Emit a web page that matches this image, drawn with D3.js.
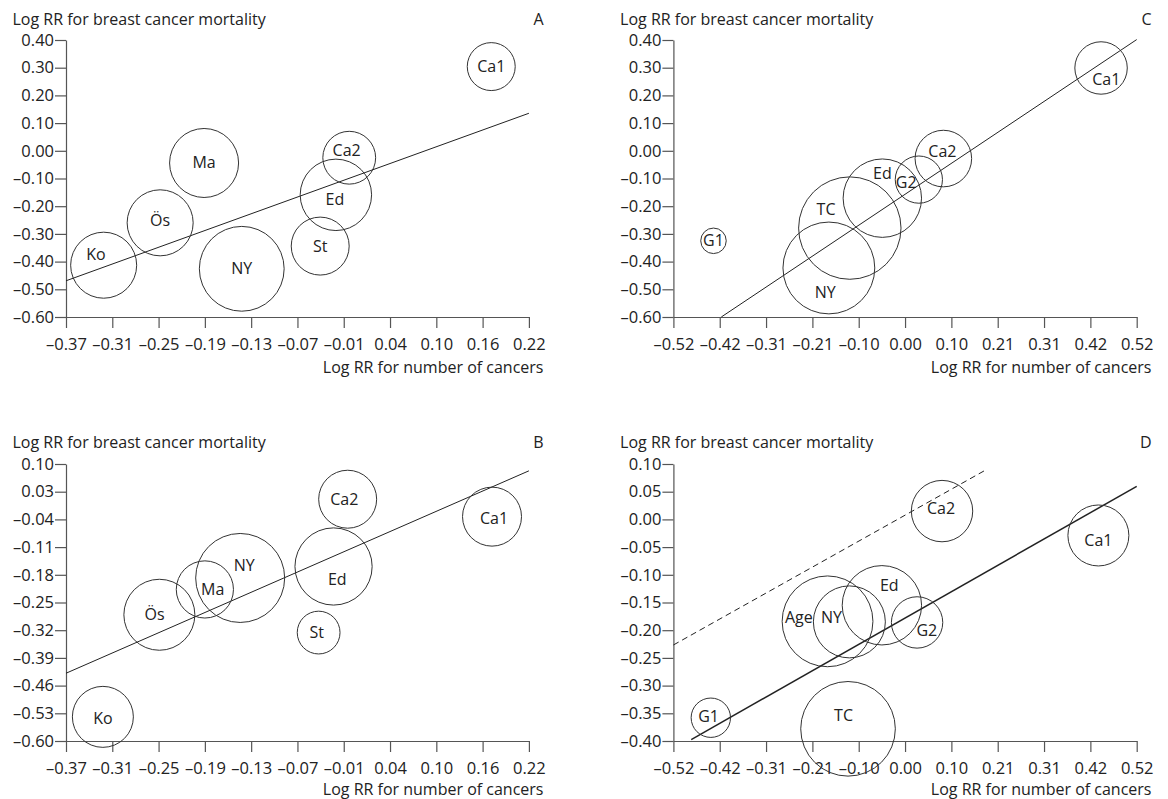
<!DOCTYPE html>
<html>
<head>
<meta charset="utf-8">
<script src="https://cdn.jsdelivr.net/npm/d3@7"></script>
<style>
  html, body { margin: 0; padding: 0; background: #fff; }
  svg { display: block; }
  text { font-family: "Open Sans", "Noto Sans", sans-serif; fill: #222; }
</style>
</head>
<body>
<svg id="chart" width="1168" height="799"></svg>
<script>
// ---------------- DATA ----------------
const yTitle = "Log RR for breast cancer mortality";
const xTitle = "Log RR for number of cancers";

// Panel A
const aStudies = ["Ca1", "Ca2", "Ed", "St", "NY", "Ma", "Ös", "Ko"];
const aX = [0.172, -0.009, -0.026, -0.046, -0.146, -0.194, -0.250, -0.322];
const aY = [0.304, -0.025, -0.159, -0.344, -0.426, -0.044, -0.260, -0.413];
const aWeight = [23.0, 27.9, 51.0, 33.6, 71.9, 47.6, 43.6, 43.6];
const aXDomain = [-0.37, 0.22];
const aYDomain = [-0.60, 0.40];
const aXTicks = ["–0.37", "–0.31", "–0.25", "–0.19", "–0.13", "–0.07", "–0.01", "0.04", "0.10", "0.16", "0.22"];
const aYTicks = ["–0.60", "–0.50", "–0.40", "–0.30", "–0.20", "–0.10", "0.00", "0.10", "0.20", "0.30", "0.40"];
const aLineIntercept = [-0.090];
const aLineSlope = [1.025];
const aLineFrom = [-0.37];
const aLineTo = [0.22];

// Panel B
const bStudies = ["Ca2", "Ca1", "Ed", "St", "NY", "Ma", "Ös", "Ko"];
const bX = [-0.011, 0.173, -0.029, -0.048, -0.148, -0.193, -0.251, -0.323];
const bY = [0.011, -0.033, -0.159, -0.326, -0.188, -0.217, -0.281, -0.539];
const bWeight = [33.6, 34.8, 59.6, 18.3, 79.2, 32.7, 50.4, 37.2];
const bXDomain = [-0.37, 0.22];
const bYDomain = [-0.60, 0.10];
const bXTicks = ["–0.37", "–0.31", "–0.25", "–0.19", "–0.13", "–0.07", "–0.01", "0.04", "0.10", "0.16", "0.22"];
const bYTicks = ["–0.60", "–0.53", "–0.46", "–0.39", "–0.32", "–0.25", "–0.18", "–0.11", "–0.04", "0.03", "0.10"];
const bLineIntercept = [-0.108];
const bLineSlope = [0.867];
const bLineFrom = [-0.37];
const bLineTo = [0.22];

// Panel C
const cStudies = ["Ca1", "Ca2", "G2", "Ed", "TC", "NY", "G1"];
const cX = [0.440, 0.086, 0.031, -0.051, -0.124, -0.171, -0.430];
const cY = [0.299, -0.028, -0.104, -0.171, -0.279, -0.423, -0.325];
const cWeight = [27.5, 32.0, 22.3, 61.5, 104.9, 84.3, 6.5];
const cXDomain = [-0.52, 0.52];
const cYDomain = [-0.60, 0.40];
const cXTicks = ["–0.52", "–0.42", "–0.31", "–0.21", "–0.10", "0.00", "0.10", "0.21", "0.31", "0.42", "0.52"];
const cYTicks = ["–0.60", "–0.50", "–0.40", "–0.30", "–0.20", "–0.10", "0.00", "0.10", "0.20", "0.30", "0.40"];
const cLineIntercept = [-0.157];
const cLineSlope = [1.074];
const cLineFrom = [-0.4125];
const cLineTo = [0.52];

// Panel D
const dStudies = ["Ca2", "Ca1", "Ed", "G2", "Age", "NY", "TC", "G1"];
const dX = [0.083, 0.434, -0.052, 0.027, -0.174, -0.125, -0.128, -0.436];
const dY = [0.015, -0.029, -0.155, -0.186, -0.184, -0.185, -0.378, -0.358];
const dWeight = [37.7, 37.2, 63.0, 26.4, 82.4, 51.8, 89.5, 15.5];
const dXDomain = [-0.52, 0.52];
const dYDomain = [-0.40, 0.10];
const dXTicks = ["–0.52", "–0.42", "–0.31", "–0.21", "–0.10", "0.00", "0.10", "0.21", "0.31", "0.42", "0.52"];
const dYTicks = ["–0.40", "–0.35", "–0.30", "–0.25", "–0.20", "–0.15", "–0.10", "–0.05", "0.00", "0.05", "0.10"];
const dLineIntercept = [-0.178, 0.0076];
const dLineSlope = [0.457, 0.4506];
const dLineFrom = [-0.48, -0.52];
const dLineTo = [0.52, 0.18];
const dLineDashed = [false, true];

// ---------------- LAYOUT (positions / styles only) ----------------
const panels = [
  { letter: "A", studies: aStudies, xs: aX, ys: aY, ws: aWeight, xd: aXDomain, yd: aYDomain,
    xt: aXTicks, yt: aYTicks, li: aLineIntercept, ls: aLineSlope, lf: aLineFrom, lt: aLineTo, dashed: [false], lw: [1],
    left: 66, right: 528.9, top: 40, bottom: 317, titleX: 12.5, titleY: 24.5, endX: 543.5, axisTitleY: 372.5,
    nudge: { Ca1: [0, 0], Ca2: [-2.6, -7.3], Ed: [-1, 5], St: [0, 0], NY: [0, 0], Ma: [0, -1], "Ös": [0, -2], Ko: [-7.8, -10.7] } },
  { letter: "C", studies: cStudies, xs: cX, ys: cY, ws: cWeight, xd: cXDomain, yd: cYDomain,
    xt: cXTicks, yt: cYTicks, li: cLineIntercept, ls: cLineSlope, lf: cLineFrom, lt: cLineTo, dashed: [false], lw: [1],
    left: 673.4, right: 1136.7, top: 40, bottom: 317, titleX: 620.1, titleY: 24.5, endX: 1151.5, axisTitleY: 372.5,
    nudge: { Ca1: [5.2, 11], Ca2: [-1, -7], G2: [-12.7, 3], Ed: [0, -25], TC: [-23.8, -19], NY: [-3.7, 24.3], G1: [0, 0] } },
  { letter: "B", studies: bStudies, xs: bX, ys: bY, ws: bWeight, xd: bXDomain, yd: bYDomain,
    xt: bXTicks, yt: bYTicks, li: bLineIntercept, ls: bLineSlope, lf: bLineFrom, lt: bLineTo, dashed: [false], lw: [1],
    left: 66, right: 528.9, top: 464, bottom: 741, titleX: 12.5, titleY: 448, endX: 543.5, axisTitleY: 794.5,
    nudge: { Ca2: [-3.4, 0], Ca1: [2, 1.7], Ed: [3.7, 13.3], St: [-2, 0], NY: [4, -13], Ma: [7.8, 0], "Ös": [-4.8, 0], Ko: [0, 1.3] } },
  { letter: "D", studies: dStudies, xs: dX, ys: dY, ws: dWeight, xd: dXDomain, yd: dYDomain,
    xt: dXTicks, yt: dYTicks, li: dLineIntercept, ls: dLineSlope, lf: dLineFrom, lt: dLineTo, dashed: dLineDashed, lw: [1.5, 1],
    left: 673.4, right: 1136.7, top: 464, bottom: 741, titleX: 620.1, titleY: 448, endX: 1151.5, axisTitleY: 794.5,
    nudge: { Ca2: [-1, -2.7], Ca1: [0, 5], Ed: [7.4, -20.3], G2: [9.7, 8.3], Age: [-28.7, -3.7], NY: [-17.9, -4], TC: [-4.5, -13], G1: [-2.2, -1] } }
];

const svg = d3.select("#chart");
const rScale = d3.scaleSqrt().domain([0, 100]).range([0, 50]);
const axisColor = "#555";
const tickFont = "16.5px";
const textFont = "16px";

panels.forEach(p => {
  const g = svg.append("g");
  const x = d3.scaleLinear().domain(p.xd).range([p.left, p.right]);
  const y = d3.scaleLinear().domain(p.yd).range([p.bottom, p.top]);
  const n = p.xt.length - 1;
  const xTickVals = d3.range(n + 1).map(i => p.xd[0] + i * (p.xd[1] - p.xd[0]) / n);
  const yTickVals = d3.range(n + 1).map(i => p.yd[0] + i * (p.yd[1] - p.yd[0]) / n);

  // X axis
  const xa = g.append("g").attr("transform", `translate(0,${p.bottom})`)
    .call(d3.axisBottom(x).tickValues(xTickVals).tickSize(11).tickSizeOuter(0)
      .tickFormat((d, i) => p.xt[i]));
  xa.selectAll("text").attr("y", 33).attr("dy", 0)
    .style("font-family", '"Open Sans", sans-serif').style("font-size", tickFont).attr("fill", "#222");
  // Y axis
  const ya = g.append("g").attr("transform", `translate(${p.left},0)`)
    .call(d3.axisLeft(y).tickValues(yTickVals).tickSize(11).tickPadding(1).tickSizeOuter(0)
      .tickFormat((d, i) => p.yt[i]));
  ya.selectAll("text").style("font-family", '"Open Sans", sans-serif').style("font-size", tickFont).attr("fill", "#222");
  [xa, ya].forEach(a => {
    a.select(".domain").attr("stroke", axisColor).attr("stroke-width", 1.2);
    a.selectAll(".tick line").attr("stroke", axisColor).attr("stroke-width", 1.2);
  });

  // Titles
  g.append("text").attr("x", p.titleX).attr("y", p.titleY).style("font-size", textFont).text(yTitle);
  g.append("text").attr("x", p.endX).attr("y", p.titleY).attr("text-anchor", "end").style("font-size", textFont).text(p.letter);
  g.append("text").attr("x", p.endX).attr("y", p.axisTitleY).attr("text-anchor", "end").style("font-size", textFont).text(xTitle);

  // Regression lines
  p.li.forEach((b0, k) => {
    const b1 = p.ls[k];
    g.append("line")
      .attr("x1", x(p.lf[k])).attr("y1", y(b0 + b1 * p.lf[k]))
      .attr("x2", x(p.lt[k])).attr("y2", y(b0 + b1 * p.lt[k]))
      .attr("stroke", "#222").attr("stroke-width", p.lw[k])
      .attr("stroke-dasharray", p.dashed[k] ? "6,4" : null);
  });

  // Bubbles
  const data = p.studies.map((s, i) => ({ s, x: p.xs[i], y: p.ys[i], w: p.ws[i] }));
  g.selectAll("circle.b").data(data).enter().append("circle")
    .attr("cx", d => x(d.x)).attr("cy", d => y(d.y)).attr("r", d => rScale(d.w))
    .attr("fill", "none").attr("stroke", "#333").attr("stroke-width", 1);
  g.selectAll("text.lab").data(data).enter().append("text")
    .attr("x", d => x(d.x) + (p.nudge[d.s] || [0, 0])[0])
    .attr("y", d => y(d.y) + (p.nudge[d.s] || [0, 0])[1])
    .attr("dy", "0.35em").attr("text-anchor", "middle")
    .style("font-size", textFont).text(d => d.s);
});
</script>
</body>
</html>
